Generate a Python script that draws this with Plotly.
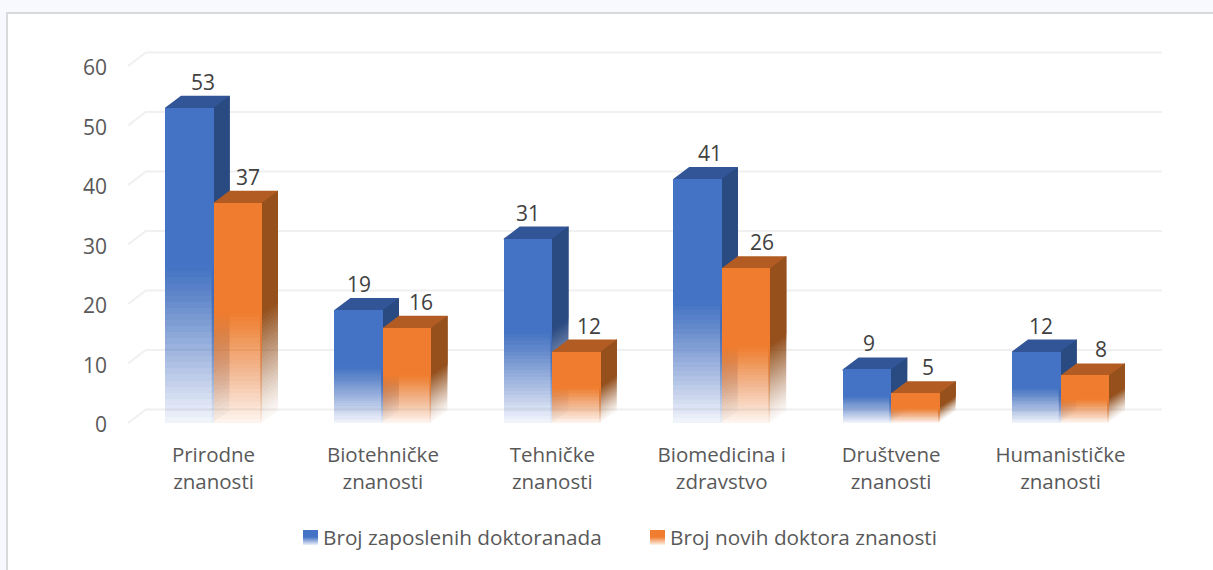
import plotly.graph_objects as go

# ---- data ----
categories = ["Prirodne znanosti", "Biotehničke znanosti", "Tehničke znanosti",
              "Biomedicina i zdravstvo", "Društvene znanosti", "Humanističke znanosti"]
category_ticks = ["Prirodne<br>znanosti", "Biotehničke<br>znanosti", "Tehničke<br>znanosti",
                  "Biomedicina i<br>zdravstvo", "Društvene<br>znanosti", "Humanističke<br>znanosti"]
zaposleni = [53, 19, 31, 41, 9, 12]
novi = [37, 16, 12, 26, 5, 8]
name_zaposleni = "Broj zaposlenih doktoranada"
name_novi = "Broj novih doktora znanosti"
value_ticks = [0, 10, 20, 30, 40, 50, 60]

# ---- label nudges (px) ----
dx_zaposleni = [14, 0, 0, 13, 2, 5]
dx_novi = [10, 14, 12, 16, 13, 16]

# ---- geometry ----
W, H = 1213, 570
L, R, T, B = 128, 1170, 20, 430
PX_X = 169.4          # px per category
PX_Y = 5.95           # px per value unit
X0_PX, Y0_PX = 128.8, 423.0   # px of x=-0.5, y=0 on the front plane
xr = [-0.5 + (L - X0_PX) / PX_X, -0.5 + (R - X0_PX) / PX_X]
yr = [(Y0_PX - B) / PX_Y, (Y0_PX - T) / PX_Y]
BAR_W = 48.5 / PX_X
DX, DY = 16 / PX_X, 12 / PX_Y
GDX, GDY = 17 / PX_X, 13.5 / PX_Y
GRID_RIGHT = -0.5 + (1162 - X0_PX) / PX_X
N = 26
ALPHA_BOTTOM = 0.07
LABEL_FONT = 20.5


def alpha(k):
    return ALPHA_BOTTOM + (1 - ALPHA_BOTTOM) * (k + 0.5) / N


def rgba(rgb, a):
    return f"rgba({rgb[0]},{rgb[1]},{rgb[2]},{a:.4f})"


BLUE, BLUE_SIDE, BLUE_TOP = (68, 114, 196), (42, 74, 130), (50, 85, 151)
ORANGE, ORANGE_SIDE, ORANGE_TOP = (240, 125, 47), (149, 80, 28), (178, 92, 36)

fig = go.Figure()
shapes = []

# frame
shapes.append(dict(type="rect", xref="paper", yref="paper", layer="below",
                   x0=(7 - L) / (R - L), x1=(W + 20 - L) / (R - L),
                   y0=(B - (H + 20)) / (B - T), y1=(B - 13) / (B - T),
                   fillcolor="white", line=dict(color="#d9d9d9", width=2)))
# grid on the back wall with its diagonal on the floor side
for v in value_ticks:
    shapes.append(dict(type="path", layer="below",
                       path=f"M {xr[0]+0.001} {v} L {-0.5+GDX} {v+GDY} L {GRID_RIGHT} {v+GDY}",
                       line=dict(color="#f0f0f0", width=2.2)))


def add_3d(xc, v, side, top):
    """side and top faces of one bar, in axis units derived from its value.
    The fade is built from overlapping layers so that no seams show."""
    x1 = xc + BAR_W / 2
    x0 = xc - BAR_W / 2
    prev = 0.0
    for k in range(N):
        a = v / 2 * k / N
        cum = alpha(k) ** 1.3
        d = 1 - (1 - cum) / (1 - prev)
        prev = cum
        shapes.append(dict(type="path", layer="below", fillcolor=rgba(side, d), line=dict(width=0),
                           path=f"M {x1-0.01} {a} L {x1+DX} {a+DY} L {x1+DX} {v+DY} L {x1-0.01} {v} Z"))
    shapes.append(dict(type="path", layer="below", fillcolor=rgba(side, 1), line=dict(width=0),
                       path=f"M {x1-0.01} {v/2} L {x1+DX} {v/2+DY} L {x1+DX} {v+DY} L {x1-0.01} {v} Z"))
    shapes.append(dict(type="path", layer="below", fillcolor=rgba(top, 1), line=dict(width=0),
                       path=f"M {x0} {v-0.2} L {x0} {v} L {x0+DX} {v+DY} L {x1+DX} {v+DY} L {x1} {v} L {x1} {v-0.2} Z"))


xs = list(range(len(categories)))
x_blue = [x - BAR_W / 2 for x in xs]
x_orange = [x + BAR_W / 2 for x in xs]
for xc, v in zip(x_blue, zaposleni):
    add_3d(xc, v, BLUE_SIDE, BLUE_TOP)
for xc, v in zip(x_orange, novi):
    add_3d(xc, v, ORANGE_SIDE, ORANGE_TOP)


def add_bars(xpos, vals, color, name):
    half = [v / 2 for v in vals]
    prev = 0.0
    for k in range(N):
        # overlapping layers: each one runs up to the bar's value, adding a little opacity
        base = [h * k / N for h in half]
        cum = min(alpha(k), 0.995)
        d = 1 - (1 - cum) / (1 - prev)
        prev = cum
        fig.add_trace(go.Bar(x=xpos, y=[v - b for v, b in zip(vals, base)], base=base,
                             width=BAR_W, showlegend=False, hoverinfo="skip",
                             marker=dict(color=rgba(color, d), line=dict(width=0))))
    fig.add_trace(go.Bar(x=xpos, y=half, base=half, width=BAR_W, name=name,
                         marker=dict(color=rgba(color, 1), line=dict(width=0)),
                         customdata=categories, hovertemplate="%{customdata}<extra></extra>"))


add_bars(x_blue, zaposleni, BLUE, name_zaposleni)
add_bars(x_orange, novi, ORANGE, name_novi)

annotations = []
for xpos, vals, dxs in ((x_blue, zaposleni, dx_zaposleni), (x_orange, novi, dx_novi)):
    for x, v, d in zip(xpos, vals, dxs):
        annotations.append(dict(x=x, y=v, text=str(v), showarrow=False, xshift=d, yshift=26,
                                yanchor="middle", font=dict(size=21, color="#404040", family="Open Sans")))


def paper_box(px0, py0, w, h, color):
    return dict(xref="paper", yref="paper", x=(px0 - L) / (R - L), y=(B - py0) / (B - T),
                xanchor="left", yanchor="top", width=w, height=h, text=" ", showarrow=False,
                bgcolor=color, borderpad=0, borderwidth=0, font=dict(size=1))


# gradient look of the legend keys: laid over the legend's own keys
for sx, color, old_x in ((303, BLUE, 294), (650, ORANGE, 643)):
    annotations.append(paper_box(old_x - 1, 530, 27, 16, "rgba(255,255,255,1)"))
    annotations.append(paper_box(sx, 530, 15, 7, rgba(color, 1)))
    for j in range(8):
        annotations.append(paper_box(sx, 537 + j, 15, 1, rgba(color, 1 - (j + 0.5) / 8 * 0.9)))

tick_texts = []
for t in category_ticks:
    parts = t.split("<br>")
    tick_texts.append("<br>".join(f'<span style="font-size:{LABEL_FONT}px">{p}</span>' for p in parts))

fig.update_layout(
    width=W, height=H, autosize=False,
    margin=dict(l=L, r=W - R, t=T, b=H - B),
    paper_bgcolor="#f7f9fe", plot_bgcolor="rgba(0,0,0,0)",
    barmode="overlay", bargap=0,
    shapes=shapes, annotations=annotations,
    showlegend=True,
    legend=dict(orientation="h", x=(283 - L) / (R - L), xanchor="left", y=(B - 536.5) / (B - T), yanchor="middle",
                entrywidth=302, entrywidthmode="pixels",
                font=dict(size=20.75, color="#595959", family="Open Sans"), bgcolor="rgba(0,0,0,0)"),
    font=dict(family="Open Sans"),
    xaxis=dict(range=xr, tickmode="array", tickvals=xs, ticktext=tick_texts,
               tickfont=dict(size=21.5, color="#595959", family="Open Sans"),
               showgrid=False, zeroline=False, showline=False, ticks="", tickangle=0, ticklabelstandoff=9),
    yaxis=dict(range=yr, tickmode="array", tickvals=value_ticks, ticktext=[str(v) for v in value_ticks],
               tickfont=dict(size=21, color="#595959", family="Open Sans"),
               showgrid=False, zeroline=False, showline=False, ticks="", ticklabelstandoff=20,
               ticklabelshift=2),
)

fig.write_html("out.html", config=dict(displayModeBar=False),
               post_script="document.body.style.margin='0';document.body.style.overflow='hidden';")
